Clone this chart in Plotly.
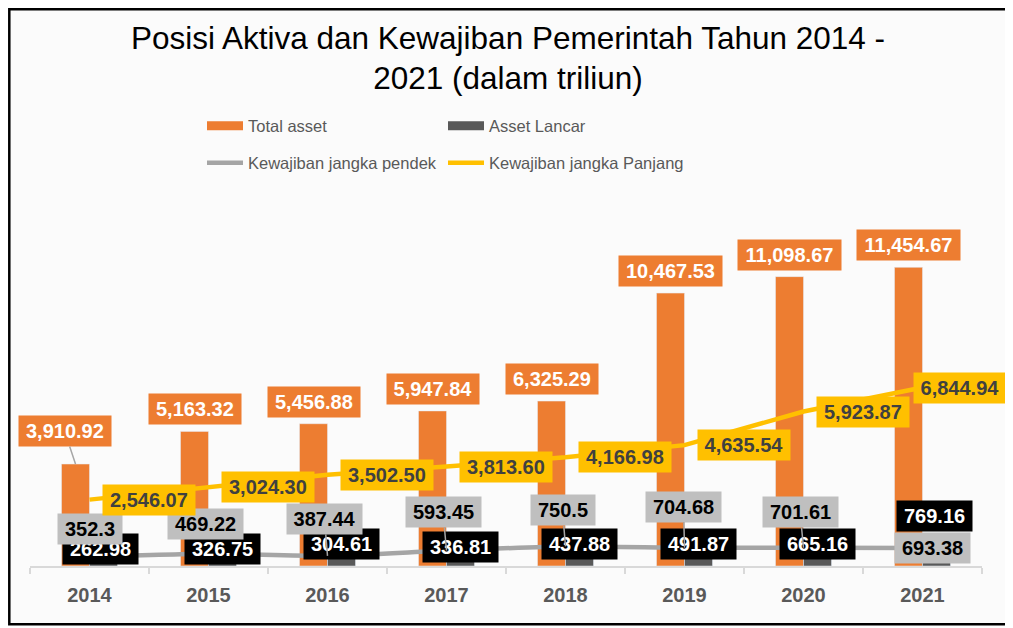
import plotly.graph_objects as go

# ---------------- data ----------------
years = ["2014", "2015", "2016", "2017", "2018", "2019", "2020", "2021"]
total_asset = [3910.92, 5163.32, 5456.88, 5947.84, 6325.29, 10467.53, 11098.67, 11454.67]
asset_lancar = [262.98, 326.75, 304.61, 336.81, 437.88, 491.87, 665.16, 769.16]
kew_pendek = [352.3, 469.22, 387.44, 593.45, 750.5, 704.68, 701.61, 693.38]
kew_panjang = [2546.07, 3024.30, 3502.50, 3813.60, 4166.98, 4635.54, 5923.87, 6844.94]

title_text = "Posisi Aktiva dan Kewajiban Pemerintah Tahun 2014 -<br>2021 (dalam triliun)"

# ---------------- styles ----------------
ORANGE = "#ED7D31"
DARK = "#595959"
GRAY = "#A5A5A5"
YELLOW = "#FFC000"
FONT = "Liberation Sans, Arial, sans-serif"

W, H = 1013, 628
OFF = 8  # page offset of the figure inside the window
ML, MR, MT, MB = 30 - OFF, 39, 201 - OFF, 70
PW, PH = W - ML - MR, H - MT - MB
BAR_OFF = 0.1176  # half of a bar width in category units


def xp(px):
    """window pixel -> paper x"""
    return (px - OFF - ML) / PW


def yp(py):
    """window pixel -> paper y"""
    return (H - MB - (py - OFF)) / PH


def text_w(s, size=20):
    w = 0.0
    for ch in s:
        w += 0.278 if ch in ",." else 0.556
    return w * size


fig = go.Figure()

fig.add_trace(go.Bar(x=years, y=total_asset, name="Total asset", marker_color=ORANGE,
                     showlegend=False))
fig.add_trace(go.Bar(x=years, y=asset_lancar, name="Asset Lancar", marker_color=DARK,
                     showlegend=False))
fig.add_trace(go.Scatter(x=years, y=kew_pendek, name="Kewajiban jangka pendek", mode="lines",
                         line=dict(color=GRAY, width=4.5, shape="spline", smoothing=0.6),
                         legend="legend2"))
fig.add_trace(go.Scatter(x=years, y=kew_panjang, name="Kewajiban jangka Panjang", mode="lines",
                         line=dict(color=YELLOW, width=4.5), legend="legend2"))
# legend proxies for the bars (wide swatches)
fig.add_trace(go.Scatter(x=[None], y=[None], name="Total asset", mode="lines",
                         line=dict(color=ORANGE, width=9), legend="legend"))
fig.add_trace(go.Scatter(x=[None], y=[None], name="Asset Lancar", mode="lines",
                         line=dict(color=DARK, width=9), legend="legend"))

annotations = []


def add_labels(values, fmt, xoff, offs, bg, fg, leaders):
    for i, v in enumerate(values):
        s = fmt(v)
        ax, ay = offs[i]
        annotations.append(dict(
            x=i + xoff, y=v, xref="x", yref="y", text=s,
            showarrow=True, ax=ax, ay=ay, axref="pixel", ayref="pixel",
            arrowhead=0, arrowwidth=1.5, standoff=0,
            arrowcolor="#A6A6A6" if leaders[i] else "rgba(0,0,0,0)",
            font=dict(family=FONT, size=20, color=fg, weight="bold"),
            bgcolor=bg, borderpad=3, width=text_w(s) + 8, height=24,
        ))


fmt2 = lambda v: f"{v:,.2f}"
fmtg = lambda v: f"{v:g}"

# Asset Lancar labels (black)
add_labels(asset_lancar, fmtg, BAR_OFF,
           [(-2.5, -10), (0, -8.5), (0, -14), (0, -10), (0, -10.5), (0, -9), (0, -5), (-2, -29.5)],
           "#000000", "#FFFFFF", [False] * 8)
# Kewajiban jangka pendek labels (gray)
add_labels(kew_pendek, fmtg, 0,
           [(0, -28), (-3, -30), (-3, -37), (-3.5, -38.5), (-3, -36), (-1, -41), (-3.5, -36), (10, 0)],
           "#BFBFBF", "#000000", [False, False, True, True, True, True, True, False])
# Kewajiban jangka panjang labels (yellow)
add_labels(kew_panjang, fmt2, 0,
           [(59, 0)] * 7 + [(37, 0)],
           YELLOW, "#404040", [False] * 8)
# Total asset labels (orange)
add_labels(total_asset, fmt2, -BAR_OFF,
           [(-11, -33)] + [(0, -22)] * 7,
           ORANGE, "#FFFFFF", [True] + [False] * 7)

fig.update_layout(
    width=W, height=H,
    margin=dict(l=ML, r=MR, t=MT, b=MB, autoexpand=False),
    paper_bgcolor="#FFFFFF",
    plot_bgcolor="rgba(0,0,0,0)",
    barmode="group", bargap=0.5294, bargroupgap=0,
    font=dict(family=FONT, color="#595959"),
    title=dict(text=title_text, x=(508 - OFF) / W, xanchor="center", xref="container",
               y=1 - 40.5 / H, yanchor="middle", yref="container",
               font=dict(family=FONT, size=31.5, color="#000000")),
    xaxis=dict(type="category", range=[-0.5, len(years) - 0.5], autorange=False,
               showline=True, linecolor="#D9D9D9", linewidth=1.5,
               ticks="outside", tickson="boundaries", ticklen=6, tickcolor="#D9D9D9",
               tickwidth=1.5, showgrid=False, zeroline=False,
               tickfont=dict(family=FONT, size=20, color="#595959", weight="bold"),
               ticklabelstandoff=10),
    yaxis=dict(visible=False, range=[0, 14000], autorange=False, showgrid=False, zeroline=False),
    legend=dict(orientation="h", x=xp(202), xanchor="left", y=yp(126), yanchor="middle",
                entrywidth=190, entrywidthmode="pixels", itemwidth=36,
                bgcolor="rgba(0,0,0,0)",
                font=dict(family=FONT, size=16.5, color="#595959")),
    legend2=dict(orientation="h", x=xp(202), xanchor="left", y=yp(163), yanchor="middle",
                 entrywidth=190, entrywidthmode="pixels", itemwidth=36,
                 bgcolor="rgba(0,0,0,0)",
                 font=dict(family=FONT, size=16.5, color="#595959")),
    annotations=annotations,
    shapes=[dict(type="rect", xref="paper", yref="paper", layer="below",
                 x0=xp(OFF + 1.3), x1=xp(1008), y0=yp(624.3), y1=yp(OFF + 1.3),
                 line=dict(color="#000000", width=2.5), fillcolor="#FBFBFB")],
)

fig.write_html("out.html")
